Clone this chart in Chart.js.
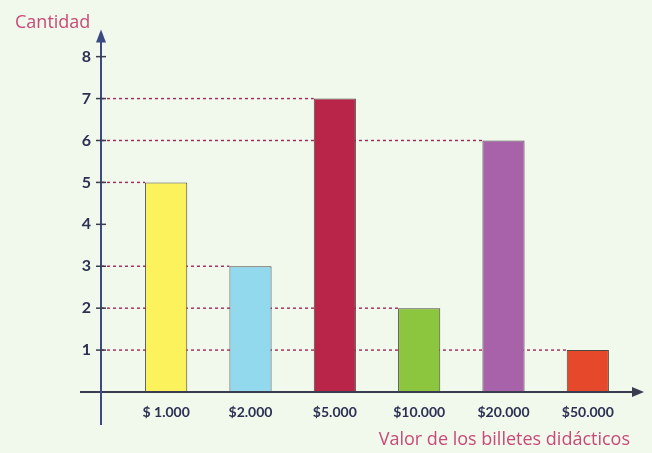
<!DOCTYPE html>
<html>
<head>
<meta charset="utf-8">
<script src="https://cdn.jsdelivr.net/npm/chart.js@4.4.1/dist/chart.umd.min.js"></script>
<style>
  html, body { margin: 0; padding: 0; background: #f1f8ec; }
  #wrap { width: 652px; height: 453px; }
</style>
</head>
<body>
<div id="wrap"><canvas id="chart"></canvas></div>
<script>
// data
const categories = ["$ 1.000", "$2.000", "$5.000", "$10.000", "$20.000", "$50.000"];
const cantidades = [5, 3, 7, 2, 6, 1];
const yTicks = [1, 2, 3, 4, 5, 6, 7, 8];

const barColors = ["#fbf25c", "#93d9ee", "#b82548", "#8cc53e", "#a862a9", "#e5482a"];
const ink = "#2c3152";
const dotColor = "#a4285a";

// axes with arrows + dotted guides from the y axis to each bar top
const handAxes = {
  id: "handAxes",
  beforeDatasetsDraw(chart) {
    const { ctx, chartArea } = chart;
    const axisX = chartArea.left - 23;
    const meta = chart.getDatasetMeta(0);
    ctx.save();
    ctx.strokeStyle = dotColor;
    ctx.lineWidth = 1.4;
    ctx.setLineDash([3, 3]);
    meta.data.forEach((bar) => {
      const left = bar.x - bar.width / 2;
      ctx.beginPath();
      ctx.moveTo(axisX, bar.y);
      ctx.lineTo(left, bar.y);
      ctx.stroke();
    });
    ctx.restore();
  },
  afterDatasetsDraw(chart) {
    const { ctx, chartArea, scales } = chart;
    const axisX = chartArea.left - 23;
    const baseY = scales.y.getPixelForValue(0);
    ctx.save();
    // x axis
    ctx.strokeStyle = "#3a3d50";
    ctx.lineWidth = 2;
    ctx.beginPath();
    ctx.moveTo(axisX - 21, baseY);
    ctx.lineTo(chartArea.right + 5, baseY);
    ctx.stroke();
    ctx.fillStyle = "#3a3d50";
    ctx.beginPath();
    ctx.moveTo(chartArea.right + 14, baseY);
    ctx.lineTo(chartArea.right + 2, baseY - 5);
    ctx.lineTo(chartArea.right + 2, baseY + 5);
    ctx.closePath();
    ctx.fill();
    // y axis
    ctx.strokeStyle = "#3b4a80";
    ctx.beginPath();
    ctx.moveTo(axisX, baseY + 33);
    ctx.lineTo(axisX, chartArea.top + 6);
    ctx.stroke();
    ctx.fillStyle = "#3b4a80";
    ctx.beginPath();
    ctx.moveTo(axisX, chartArea.top - 4);
    ctx.lineTo(axisX - 5, chartArea.top + 9);
    ctx.lineTo(axisX + 5, chartArea.top + 9);
    ctx.closePath();
    ctx.fill();
    // tick marks
    ctx.strokeStyle = "#3a3d50";
    ctx.lineWidth = 1.5;
    yTicks.forEach((v) => {
      const y = scales.y.getPixelForValue(v);
      ctx.beginPath();
      ctx.moveTo(axisX - 5, y);
      ctx.lineTo(axisX + 5, y);
      ctx.stroke();
    });
    ctx.restore();
  },
};

new Chart(document.getElementById("chart"), {
  type: "bar",
  data: {
    labels: categories,
    datasets: [
      {
        label: "Cantidad",
        data: cantidades,
        backgroundColor: barColors,
        borderColor: "#4a4c44",
        borderWidth: 1,
        barPercentage: 1,
        categoryPercentage: 0.5,
      },
    ],
  },
  options: {
    responsive: true,
    maintainAspectRatio: false,
    animation: false,
    layout: { padding: { left: 15, right: 22, top: 0, bottom: 0 } },
    plugins: {
      legend: { display: false },
      tooltip: { enabled: false },
      title: {
        display: true,
        text: "Cantidad",
        align: "start",
        color: "#c84a78",
        font: { family: "Open Sans", size: 18, weight: "normal" },
        padding: { top: 12, bottom: 0 },
      },
    },
    scales: {
      x: {
        offset: true,
        grid: { display: false, drawTicks: false },
        border: { display: false },
        ticks: {
          color: ink,
          padding: 12,
          font: { family: "Lato", size: 14, weight: "bold" },
        },
        title: {
          display: true,
          text: "Valor de los billetes didácticos",
          align: "end",
          color: "#c84a78",
          font: { family: "Open Sans", size: 18, weight: "normal" },
          padding: { top: 4, bottom: 2 },
        },
        afterFit: (scale) => { scale.height = 61; },
      },
      y: {
        min: 0,
        max: 8.55,
        grid: { display: false, drawTicks: false },
        border: { display: false },
        afterBuildTicks: (scale) => {
          scale.ticks = yTicks.map((v) => ({ value: v }));
        },
        ticks: {
          color: ink,
          padding: 33,
          font: { family: "Lato", size: 16, weight: "bold" },
        },
        afterFit: (scale) => {
          scale.width = 109;
          scale.paddingTop = 0;
          scale.paddingBottom = 0;
        },
      },
    },
  },
  plugins: [handAxes],
});
</script>
</body>
</html>
